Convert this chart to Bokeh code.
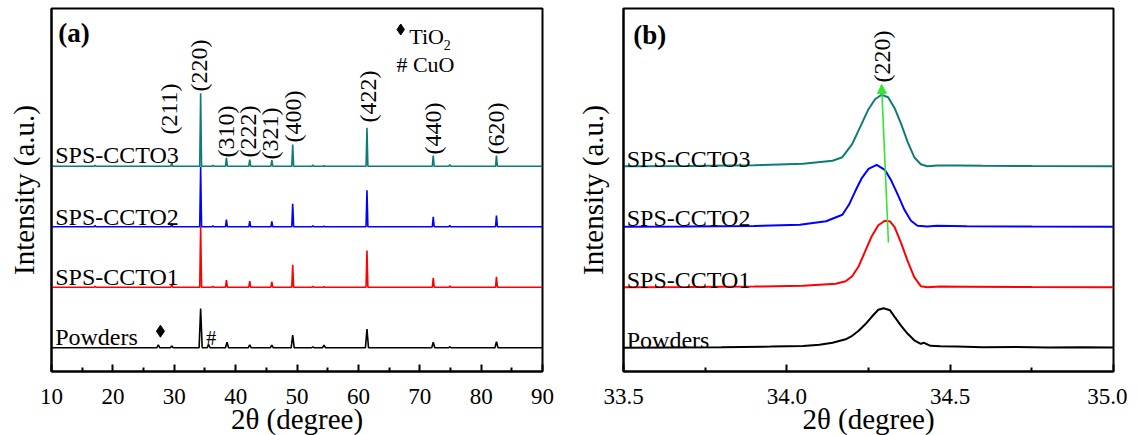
import math
from bokeh.plotting import figure
from bokeh.layouts import row
from bokeh.models import Range1d, FixedTicker, Arrow, NormalHead
from bokeh.core.properties import value
from bokeh.embed import file_html
from bokeh.resources import INLINE

SERIF = "Liberation Serif"

# ---------------- data: panel (a) full patterns ----------------
samples = ["SPS-CCTO3", "SPS-CCTO2", "SPS-CCTO1", "Powders"]
colors = ["#0e7c76", "#0000ff", "#ff0000", "#000000"]
offsets_a = [205.3, 144.7, 84.3, 23.7]

# peak positions (2theta) and heights
peaks_ccto = [17.1, 29.6, 34.3, 36.3, 38.5, 42.3, 45.9, 49.3, 52.6, 54.4, 61.4, 72.2, 74.9, 82.5]
h_ccto3 = [0.8, 4.0, 73.0, 0.8, 8.4, 6.5, 6.0, 21.7, 1.2, 0.5, 38.5, 10.7, 1.5, 10.7]
h_ccto2 = [1.2, 3.0, 60.0, 1.0, 7.3, 5.7, 5.3, 23.0, 1.0, 0.5, 36.6, 10.0, 1.5, 11.3]
h_ccto1 = [0.8, 3.3, 61.0, 1.0, 7.0, 6.0, 5.3, 22.3, 1.0, 0.5, 36.7, 9.3, 1.2, 10.3]
peaks_powder = [27.4, 29.6, 34.3, 35.6, 38.6, 42.3, 45.9, 49.3, 52.6, 54.4, 61.4, 72.2, 74.9, 82.5]
h_powder = [3.0, 1.7, 39.3, 3.3, 5.7, 3.0, 2.7, 12.7, 1.0, 2.7, 18.7, 5.6, 1.0, 6.0]

hkl_labels = ["(211)", "(220)", "(310)", "(222)", "(321)", "(400)", "(422)", "(440)", "(620)"]
hkl_x = [29.2, 34.05, 38.45, 41.95, 45.6, 49.4, 61.6, 72.2, 82.4]
hkl_y = [237, 280, 214, 214, 212, 229, 249, 217, 217]

# ---------------- data: panel (b) (220) peak ----------------
offsets_b = [205.3, 144.7, 84.3, 23.7]
b3_x = [33.50, 33.70, 33.90, 34.05, 34.14, 34.17, 34.20, 34.23, 34.25, 34.27, 34.29, 34.31, 34.33,
        34.35, 34.37, 34.39, 34.41, 34.43, 34.46, 34.52, 34.60, 34.75, 35.00]
b3_h = [0, 0.3, 1.0, 2.5, 5.5, 9, 22, 43, 57, 67, 71.5, 69, 58, 42, 24, 9, 2, 0, 0.6, 0.8, 0.4, 0.2, 0]
b2_x = [33.50, 33.70, 33.90, 34.04, 34.12, 34.17, 34.19, 34.21, 34.23, 34.25, 34.275, 34.30, 34.32,
        34.34, 34.36, 34.38, 34.40, 34.43, 34.46, 34.55, 34.75, 35.00]
b2_h = [0, 0.3, 0.8, 2, 5.5, 12, 22, 36, 49, 58, 62, 57, 46, 32, 17, 6, 1, 0.3, 1, 0.5, 0.2, 0]
b1_x = [33.50, 33.70, 33.90, 34.05, 34.15, 34.18, 34.20, 34.22, 34.24, 34.26, 34.28, 34.30, 34.315,
        34.33, 34.35, 34.37, 34.39, 34.41, 34.43, 34.47, 34.55, 34.75, 35.00]
b1_h = [0, 0.2, 0.6, 1.5, 3.5, 6, 11, 21, 36, 51, 62, 66.5, 66, 60, 44, 26, 10, 1, 0, 0.6, 0.5, 0.2, 0]
b0_x = [33.50, 33.65, 33.80, 33.95, 34.05, 34.10, 34.14, 34.18, 34.20, 34.22, 34.24, 34.26, 34.28,
        34.296, 34.316, 34.33, 34.35, 34.37, 34.39, 34.41, 34.42, 34.44, 34.47, 34.52, 34.60, 34.70,
        34.80, 34.90, 35.00]
b0_h = [0, 0.3, 0.6, 1.2, 1.8, 3, 5, 8.5, 12, 17, 23.5, 31, 38, 39.5, 37.5, 31, 22, 14, 7.5, 4, 5, 2,
        1.5, 1.2, 0.6, 0.8, 0.3, 0.5, 0.4]
shift_line_x = [34.311, 34.29]
shift_line_y = [129, 287]

x_ticks_a = [10, 20, 30, 40, 50, 60, 70, 80, 90]
x_minor_a = [15, 25, 35, 45, 55, 65, 75, 85]
x_ticks_b = [33.5, 34.0, 34.5, 35.0]
x_minor_b = [33.75, 34.25, 34.75]

X_TITLE = "2θ (degree)"
Y_TITLE = "Intensity (a.u.)"


def spikes(pos, hts, base, w):
    xs, ys = [10.0], [base]
    for p, h in zip(pos, hts):
        xs += [p - w, p, p + w]
        ys += [base, base + h, base]
    xs.append(90.0)
    ys.append(base)
    return xs, ys


def style(p, major, minor, labels, ystand):
    p.grid.visible = False
    p.outline_line_color = "black"
    p.outline_line_width = 2
    p.background_fill_color = "white"
    p.border_fill_color = "white"
    xa = p.xaxis[0]
    xa.ticker = FixedTicker(ticks=major, minor_ticks=minor)
    xa.major_label_overrides = {t: l for t, l in zip(major, labels)}
    xa.major_tick_in = 7
    xa.major_tick_out = 0
    xa.minor_tick_in = 4
    xa.minor_tick_out = 0
    xa.major_tick_line_width = 2
    xa.minor_tick_line_width = 2
    xa.axis_line_width = 2
    xa.major_label_text_font = SERIF
    xa.major_label_text_font_size = "23px"
    xa.major_label_text_color = "black"
    xa.major_label_standoff = 17
    xa.axis_label = X_TITLE
    xa.axis_label_text_font = SERIF
    xa.axis_label_text_font_size = "29px"
    xa.axis_label_text_font_style = "normal"
    xa.axis_label_text_color = "black"
    xa.axis_label_standoff = -4
    ya = p.yaxis[0]
    ya.ticker = FixedTicker(ticks=[])
    ya.major_tick_in = 0
    ya.major_tick_out = 0
    ya.minor_tick_in = 0
    ya.minor_tick_out = 0
    ya.axis_line_width = 2
    ya.axis_label = Y_TITLE
    ya.axis_label_text_font = SERIF
    ya.axis_label_text_font_size = "29px"
    ya.axis_label_text_font_style = "normal"
    ya.axis_label_text_color = "black"
    ya.axis_label_standoff = ystand


# ---------------- panel (a) ----------------
p1 = figure(frame_width=491, frame_height=363, x_range=Range1d(10, 90), y_range=Range1d(0, 363),
            output_backend="svg", toolbar_location=None,
            min_border_left=51, min_border_right=20, min_border_top=8, min_border_bottom=56)
style(p1, x_ticks_a, x_minor_a, [str(t) for t in x_ticks_a], 12)

series_a = [(peaks_ccto, h_ccto3, 0.15), (peaks_ccto, h_ccto2, 0.15), (peaks_ccto, h_ccto1, 0.15),
            (peaks_powder, h_powder, 0.25)]
for (pos, hts, w), base, col in zip(series_a, offsets_a, colors):
    xs, ys = spikes(pos, hts, base, w)
    p1.line(xs, ys, line_color=col, line_width=1.6)

lab_y_a = [217, 155, 95, 35]
p1.text(x=[10.6] * 4, y=lab_y_a, text=samples, text_font=value(SERIF), text_font_size="24px",
        text_align="left", text_baseline="alphabetic", text_color="black")
p1.text(x=hkl_x, y=hkl_y, text=hkl_labels, angle=math.pi / 2, text_font=value(SERIF),
        text_font_size="24px", text_align="left", text_baseline="middle", text_color="black")
p1.text(x=[11.1], y=[339], text=["(a)"], text_font=value(SERIF), text_font_size="27px",
        text_font_style="bold", text_align="left", text_baseline="alphabetic", text_color="black")
# phase markers
p1.scatter(x=[27.75], y=[40.3], marker="diamond", size=12, fill_color="black", line_color="black")
p1.text(x=[35.2], y=[34], text=["#"], text_font=value(SERIF), text_font_size="20px",
        text_align="left", text_baseline="alphabetic", text_color="black")
# legend of phases
p1.scatter(x=[66.9], y=[342], marker="diamond", size=11, fill_color="black", line_color="black")
p1.text(x=[68.3], y=[335], text=["TiO"], text_font=value(SERIF), text_font_size="22px",
        text_align="left", text_baseline="alphabetic", text_color="black")
p1.text(x=[73.9], y=[327], text=["2"], text_font=value(SERIF), text_font_size="14px",
        text_align="left", text_baseline="alphabetic", text_color="black")
p1.text(x=[66.2], y=[307], text=["# CuO"], text_font=value(SERIF), text_font_size="22px",
        text_align="left", text_baseline="alphabetic", text_color="black")

# ---------------- panel (b) ----------------
p2 = figure(frame_width=490, frame_height=363, x_range=Range1d(33.5, 35.0), y_range=Range1d(0, 363),
            output_backend="svg", toolbar_location=None,
            min_border_left=61, min_border_right=14, min_border_top=8, min_border_bottom=56)
style(p2, x_ticks_b, x_minor_b, ["33.5", "34.0", "34.5", "35.0"], 15)

series_b = [(b3_x, b3_h), (b2_x, b2_h), (b1_x, b1_h), (b0_x, b0_h)]
for (xs, hs), base, col in zip(series_b, offsets_b, colors):
    p2.line(xs, [base + h for h in hs], line_color=col, line_width=2)

lab_y_b = [213, 153.7, 92, 32]
p2.text(x=[33.51] * 4, y=lab_y_b, text=samples, text_font=value(SERIF), text_font_size="24px",
        text_align="left", text_baseline="alphabetic", text_color="black")
p2.text(x=[34.29], y=[289], text=["(220)"], angle=math.pi / 2, text_font=value(SERIF),
        text_font_size="24px", text_align="left", text_baseline="middle", text_color="black")
p2.text(x=[33.53], y=[337], text=["(b)"], text_font=value(SERIF), text_font_size="27px",
        text_font_style="bold", text_align="left", text_baseline="alphabetic", text_color="black")
green = "#33e633"
p2.add_layout(Arrow(end=NormalHead(size=9, fill_color=green, line_color=green),
                    x_start=shift_line_x[0], y_start=shift_line_y[0],
                    x_end=shift_line_x[1], y_end=shift_line_y[1],
                    line_color=green, line_width=1.6))

layout = row(p1, p2)
html = file_html(layout, INLINE)
html = html.replace("<head>", "<head><style>html, body { overflow: hidden; }</style>", 1)
open("out.html", "w").write(html)
